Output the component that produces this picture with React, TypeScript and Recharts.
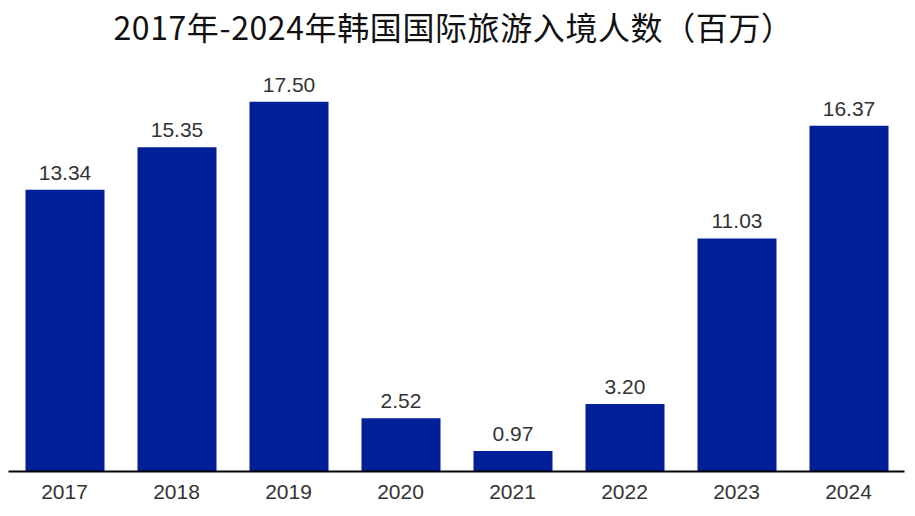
import React from 'react';
import { BarChart, Bar, XAxis, YAxis, LabelList } from 'recharts';

const years = ['2017', '2018', '2019', '2020', '2021', '2022', '2023', '2024'];
const arrivals = [13.34, 15.35, 17.5, 2.52, 0.97, 3.2, 11.03, 16.37];

const chartData = years.map((year, i) => ({ year, value: arrivals[i] }));

const title = '2017年-2024年韩国国际旅游入境人数（百万）';

export default function App() {
    return (
        <div style={{ position: 'relative', width: 915, height: 516, background: '#fff' }}>
            <style>{'body{margin:0}'}</style>
            <div
                style={{
                    position: 'absolute',
                    top: 5,
                    left: 0,
                    width: 907,
                    textAlign: 'center',
                    fontFamily: '"Noto Sans CJK SC", sans-serif',
                    fontSize: 32,
                    fontWeight: 400,
                    letterSpacing: 0.6,
                    color: '#111',
                    lineHeight: '42px',
                    whiteSpace: 'nowrap',
                }}
            >
                {title}
            </div>
            <BarChart
                width={915}
                height={516}
                data={chartData}
                margin={{ top: 49, right: 10.5, bottom: 14.5, left: 8.5 }}
            >
                <XAxis
                    dataKey="year"
                    height={30}
                    tickLine={false}
                    tickSize={0}
                    tickMargin={13}
                    axisLine={{ stroke: '#000', strokeWidth: 2 }}
                    tick={{ fill: '#333', fontSize: 21, fontFamily: 'Liberation Sans, Arial, sans-serif' }}
                />
                <YAxis hide domain={[0, 20]} />
                <Bar dataKey="value" fill="#001f99" barSize={79} isAnimationActive={false}>
                    <LabelList
                        dataKey="value"
                        position="top"
                        offset={10}
                        formatter={(v: number) => v.toFixed(2)}
                        style={{ fill: '#333', fontSize: 21, fontFamily: 'Liberation Sans, Arial, sans-serif' }}
                    />
                </Bar>
            </BarChart>
        </div>
    );
}
